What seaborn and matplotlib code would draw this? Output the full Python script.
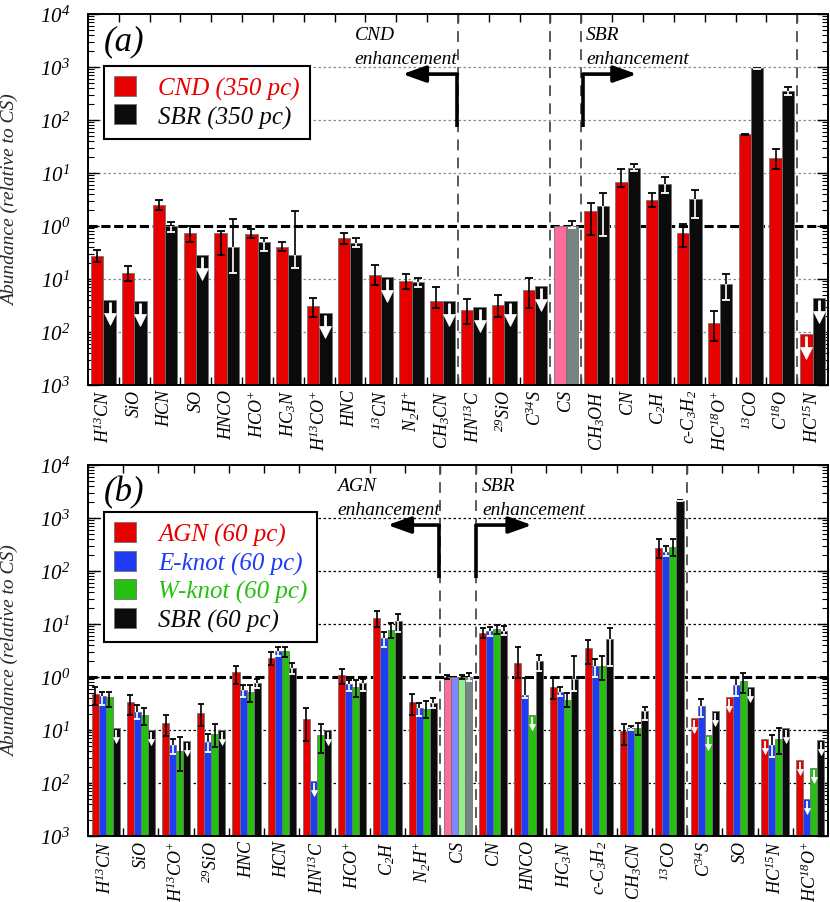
import numpy as np
import pandas as pd
import matplotlib
matplotlib.use("Agg")
import matplotlib.pyplot as plt
import matplotlib.transforms as mtransforms
from matplotlib.patches import Patch
from matplotlib.ticker import LogLocator, NullFormatter
import seaborn as sns

# ---------------- Panel (a) data ----------------
mols_a = ['H$^{13}$CN', 'SiO', 'HCN', 'SO', 'HNCO', 'HCO$^{+}$', 'HC$_{3}$N',
          'H$^{13}$CO$^{+}$', 'HNC', '$^{13}$CN', 'N$_{2}$H$^{+}$', 'CH$_{3}$CN',
          'HN$^{13}$C', '$^{29}$SiO', 'C$^{34}$S', 'CS', 'CH$_{3}$OH', 'CN',
          'C$_{2}$H', 'c-C$_{3}$H$_{2}$', 'HC$^{18}$O$^{+}$', '$^{13}$CO',
          'C$^{18}$O', 'HC$^{15}$N']
cnd_a = [0.27, 0.13, 2.5, 0.73, 0.74, 0.70, 0.41, 0.031, 0.60, 0.12, 0.091, 0.039,
         0.026, 0.032, 0.062, 1.0, 1.9, 6.8, 3.1, 0.73, 0.0145, 54, 19, 0.0092]
cnd_up = [0.11, 0.13, 0.09, 0.13, 0.03, 0.09, 0.09, 0.16, 0.09, 0.19, 0.13, 0.25,
          0.21, 0.19, 0.22, 0, 0.16, 0.25, 0.13, 0.18, 0.23, 0.01, 0.18, 0]
cnd_dn = [0.11, 0.16, 0.10, 0.17, 0.42, 0.08, 0.09, 0.20, 0.11, 0.20, 0.14, 0.14,
          0.27, 0.23, 0.33, 0, 0.45, 0.10, 0.14, 0.26, 0.34, 0.01, 0.20, 0]
cnd_ul = [0] * 23 + [1]
sbr_a = [0.040, 0.039, 1.0, 0.29, 0.41, 0.49, 0.29, 0.023, 0.48, 0.11, 0.087, 0.038,
         0.030, 0.039, 0.075, 1.0, 2.4, 12.4, 6.1, 3.2, 0.081, 955, 355, 0.043]
sbr_up = [0, 0, 0.08, 0, 0.52, 0.09, 0.82, 0, 0.09, 0, 0.08, 0,
          0, 0, 0, 0.09, 0.24, 0.08, 0.13, 0.18, 0.19, 0.01, 0.08, 0]
sbr_dn = [0, 0, 0.11, 0, 0.49, 0.16, 0.25, 0, 0.08, 0, 0.09, 0,
          0, 0, 0, 0.04, 0.57, 0.05, 0.16, 0.35, 0.30, 0.01, 0.08, 0]
sbr_ul = [1, 1, 0, 1, 0, 0, 0, 1, 0, 1, 0, 1, 1, 1, 1, 0, 0, 0, 0, 0, 0, 0, 0, 1]
names_a = ['CND (350 pc)', 'SBR (350 pc)']

# ---------------- Panel (b) data ----------------
mols_b = ['H$^{13}$CN', 'SiO', 'H$^{13}$CO$^{+}$', '$^{29}$SiO', 'HNC', 'HCN',
          'HN$^{13}$C', 'HCO$^{+}$', 'C$_{2}$H', 'N$_{2}$H$^{+}$', 'CS', 'CN', 'HNCO',
          'HC$_{3}$N', 'c-C$_{3}$H$_{2}$', 'CH$_{3}$CN', '$^{13}$CO', 'C$^{34}$S', 'SO',
          'HC$^{15}$N', 'HC$^{18}$O$^{+}$']
agn_b = [0.47, 0.33, 0.134, 0.21, 1.26, 2.3, 0.16, 1.1, 12.8, 0.33, 1.0, 6.9, 1.8,
         0.66, 3.5, 0.096, 270, 0.17, 0.41, 0.069, 0.027]
agn_up = [0.14, 0.14, 0.15, 0.16, 0.11, 0.10, 0.21, 0.11, 0.14, 0.16, 0.04, 0.08, 0.31,
          0.16, 0.16, 0.13, 0.17, 0, 0, 0, 0]
agn_dn = [0.20, 0.23, 0.24, 0.24, 0.23, 0.14, 0.41, 0.17, 0.17, 0.23, 0.04, 0.11, 0.28,
          0.24, 0.30, 0.26, 0.19, 0, 0, 0, 0]
agn_ul = [0] * 17 + [1, 1, 1, 1]
ek_b = [0.43, 0.22, 0.052, 0.059, 0.57, 3.1, 0.011, 0.73, 5.4, 0.26, 1.0, 7.4, 0.46,
        0.53, 1.6, 0.11, 230, 0.28, 0.71, 0.052, 0.005]
ek_up = [0.09, 0.12, 0.11, 0.15, 0.09, 0.08, 0, 0.08, 0.11, 0.10, 0, 0.08, 0.31,
         0.09, 0.14, 0.03, 0.11, 0.14, 0.14, 0.18, 0]
ek_dn = [0.16, 0.13, 0.16, 0.18, 0.13, 0.09, 0, 0.12, 0.16, 0.15, 0, 0.09, 0.06,
         0.08, 0.21, 0.04, 0.08, 0.20, 0.21, 0.23, 0]
ek_ul = [0, 0, 0, 0, 0, 0, 1, 0, 0, 0, 0, 0, 0, 0, 0, 0, 0, 0, 0, 0, 1]
wk_b = [0.41, 0.19, 0.041, 0.084, 0.53, 3.1, 0.079, 0.64, 7.7, 0.25, 1.0, 7.9, 0.19,
        0.37, 1.6, 0.11, 280, 0.079, 0.83, 0.069, 0.019]
wk_up = [0.10, 0.14, 0.25, 0.18, 0.13, 0.08, 0.21, 0.14, 0.13, 0.15, 0.03, 0.09, 0,
         0.13, 0.19, 0.09, 0.15, 0, 0.16, 0.19, 0]
wk_dn = [0.17, 0.19, 0.38, 0.25, 0.19, 0.11, 0.33, 0.18, 0.16, 0.18, 0.03, 0.09, 0,
         0.13, 0.27, 0.13, 0.16, 0, 0.23, 0.30, 0]
wk_ul = [0, 0, 0, 0, 0, 0, 0, 0, 0, 0, 0, 0, 1, 0, 0, 0, 0, 1, 0, 0, 1]
sb_b = [0.107, 0.10, 0.062, 0.10, 0.76, 1.46, 0.10, 0.76, 11.4, 0.32, 1.0, 7.5, 2.0,
        0.9, 5.1, 0.23, 2100, 0.23, 0.64, 0.11, 0.065]
sb_up = [0, 0, 0, 0, 0.08, 0.09, 0, 0.09, 0.14, 0.09, 0.07, 0.08, 0.11,
         0.45, 0.21, 0.08, 0.01, 0, 0, 0, 0]
sb_dn = [0, 0, 0, 0, 0.09, 0.11, 0, 0.14, 0.20, 0.09, 0.07, 0.08, 0.19,
         0.21, 0.50, 0.17, 0.01, 0, 0, 0, 0]
sb_ul = [1, 1, 1, 1, 0, 0, 1, 0, 0, 0, 0, 0, 0, 0, 0, 0, 0, 1, 1, 1, 1]
names_b = ['AGN (60 pc)', 'E-knot (60 pc)', 'W-knot (60 pc)', 'SBR (60 pc)']

ytick_vals = [1e-3, 1e-2, 1e-1, 1e0, 1e1, 1e2, 1e3, 1e4]
ytick_labels = ['$10^{3}$', '$10^{2}$', '$10^{1}$', '$10^{0}$',
                '$10^{1}$', '$10^{2}$', '$10^{3}$', '$10^{4}$']

# ---------------- style ----------------
sns.set_theme(style="white")
plt.rcParams.update({
    'font.family': ['Liberation Serif', 'DejaVu Serif'],
    'font.style': 'italic',
    'mathtext.fontset': 'custom',
    'mathtext.rm': 'Liberation Serif:italic',
    'mathtext.it': 'Liberation Serif:italic',
    'mathtext.bf': 'Liberation Serif:italic:bold',
    'axes.edgecolor': 'black',
    'axes.linewidth': 1.4,
    'text.color': 'black',
    'xtick.color': 'black',
    'ytick.color': 'black',
})

RED = '#e60000'
BLK = '#0b0b0b'
BLU = '#1f3cf5'
GRN = '#26c010'

FIG_H_PX = 903


def draw_panel(ax, mols, names, series, colors, cs_colors, low_cols, grid_col,
               leg_anchor, label, arrows, seps, alen, ahead, ams, alw, capms):
    rows = []
    for name, s in zip(names, series):
        for m, v in zip(mols, s[0]):
            rows.append({'mol': m, 'region': name, 'value': v})
    df = pd.DataFrame(rows)
    sns.barplot(data=df, x='mol', y='value', hue='region', order=mols,
                hue_order=names, palette=dict(zip(names, colors)), saturation=1,
                width=0.8, edgecolor='0.45', linewidth=0.6, errorbar=None,
                legend=False, ax=ax)
    ax.set_yscale('log')
    n = len(mols)
    ax.set_xlim(-0.5, n - 0.5)
    ax.set_ylim(1e-3, 1e4)
    # pixels per decade, from the axes geometry
    ppd = ax.get_position().height * FIG_H_PX / 7.0

    for yv in ytick_vals[1:-1]:
        if yv == 1.0:
            continue
        ax.axhline(yv, color=grid_col, ls=(0, (2, 2)), lw=0.9, zorder=0.5)
    ax.axhline(1.0, color='black', ls=(0, (3, 1.2)), lw=2.2, zorder=0.6)
    for b in seps:
        ax.axvline(b, color='0.3', ls=(0, (6, 4)), lw=1.3, zorder=0.6)

    cs_idx = mols.index('CS')
    for k, cont in enumerate(ax.containers):
        ups, dns, uls = series[k][1], series[k][2], series[k][3]
        for p in cont:
            xc = p.get_x() + p.get_width() / 2
            j = int(round(xc))
            v = p.get_height()
            if j == cs_idx:
                p.set_facecolor(cs_colors[k])
            if uls[j]:
                ytop = v * 10 ** (-2.0 / ppd)
                yshaft = v * 10 ** (-(alen - ahead * 0.6) / ppd)
                ytri = v * 10 ** (-(alen - ahead * 0.5) / ppd)
                ax.plot([xc, xc], [ytop, yshaft], color='white', lw=alw, zorder=4,
                        solid_capstyle='butt')
                ax.plot([xc], [ytri], marker='v', ms=ams, color='white',
                        mec='white', mew=0.5, zorder=4)
                continue
            if ups[j] > 0:
                hi = v * 10 ** ups[j]
                ax.plot([xc, xc], [v, hi], color='black', lw=1.2, zorder=3,
                        solid_capstyle='butt')
                ax.plot([xc], [hi], marker='_', ms=capms, mew=1.3, color='black', zorder=3)
            if dns[j] > 0:
                lo = v * 10 ** (-dns[j])
                ax.plot([xc, xc], [lo, v], color=low_cols[k], lw=1.2, zorder=3,
                        solid_capstyle='butt')
                ax.plot([xc], [lo], marker='_', ms=capms, mew=1.3, color=low_cols[k],
                        zorder=3)

    ax.set_yticks(ytick_vals)
    ax.set_yticklabels(ytick_labels, fontsize=15)
    ax.yaxis.set_minor_locator(LogLocator(base=10, subs=np.arange(2, 10), numticks=100))
    ax.yaxis.set_minor_formatter(NullFormatter())
    ax.tick_params(axis='y', which='major', direction='in', left=True, right=True,
                   length=8, width=1.0, pad=13)
    ax.tick_params(axis='y', which='minor', direction='in', left=True, right=True,
                   length=4, width=0.8)
    ax.set_xticks(range(n))
    ax.set_xticklabels(mols, rotation=90, fontsize=13)
    ax.tick_params(axis='x', which='major', length=0, pad=3)
    ax.set_xticks(np.arange(0.5, n - 1, 1), minor=True)
    ax.tick_params(axis='x', which='minor', direction='in', top=True, bottom=True,
                   length=6, width=1.0)
    ax.set_xlabel('')
    ax.set_ylabel('Abundance (relative to CS)', fontsize=14)
    ax.yaxis.set_label_coords(-0.093, 0.5)
    for sp in ax.spines.values():
        sp.set_linewidth(1.4)
        sp.set_color('black')

    handles = [Patch(facecolor=c, edgecolor='0.45', linewidth=0.6) for c in colors]
    leg = ax.legend(handles, names, loc='upper left', bbox_to_anchor=leg_anchor,
                    frameon=True, fancybox=False, edgecolor='black', fontsize=18,
                    handlelength=0.85, handleheight=0.85, handletextpad=0.9,
                    borderpad=0.4, labelspacing=0.18, borderaxespad=0,
                    framealpha=1)
    leg.get_frame().set_linewidth(1.5)
    for t, c in zip(leg.get_texts(), colors):
        t.set_color(c)
    leg.set_zorder(10)

    ax.text(0.022, 0.927, label, transform=ax.transAxes, fontsize=25,
            va='center', ha='left')

    trans = mtransforms.blended_transform_factory(ax.transData, ax.transAxes)
    for (title, xt, xv, xe) in arrows:
        ax.text(xt, 0.944, title, transform=trans, fontsize=14, ha='left', va='center')
        ax.text(xt, 0.879, 'enhancement', transform=trans, fontsize=14, ha='left',
                va='center')
        ax.plot([xv, xv], [0.695, 0.842], transform=trans, color='black', lw=2.6,
                solid_capstyle='butt', zorder=5)
        ax.annotate('', xy=(xe, 0.838), xytext=(xv, 0.838), xycoords=trans,
                    textcoords=trans,
                    arrowprops=dict(arrowstyle='-|>,head_width=0.25,head_length=0.7',
                                    color='black', lw=2.6, shrinkA=0, shrinkB=0,
                                    mutation_scale=20), zorder=5)


fig = plt.figure(figsize=(8.3, 9.03), dpi=100)
fig.patch.set_facecolor('white')
ax_a = fig.add_axes([0.106, 0.5725, 0.8916, 0.4109])
ax_b = fig.add_axes([0.106, 0.0731, 0.8916, 0.4109])

draw_panel(ax_a, mols_a, names_a,
           [(cnd_a, cnd_up, cnd_dn, cnd_ul), (sbr_a, sbr_up, sbr_dn, sbr_ul)],
           [RED, BLK], ['#ff6b9b', '#788484'], ['black', 'white'], '0.55',
           (0.022, 0.86), '(a)',
           [('CND', 8.15, 11.48, 9.7), ('SBR', 15.65, 15.55, 17.3)],
           [11.5, 14.5, 15.5, 22.5], 24, 10, 8, 2.0, 6)

draw_panel(ax_b, mols_b, names_b,
           [(agn_b, agn_up, agn_dn, agn_ul), (ek_b, ek_up, ek_dn, ek_ul),
            (wk_b, wk_up, wk_dn, wk_ul), (sb_b, sb_up, sb_dn, sb_ul)],
           [RED, BLU, GRN, BLK], ['#ff6b9b', '#8088ff', '#90ee88', '#788484'],
           ['black', 'white', 'black', 'white'], 'black',
           (0.022, 0.873), '(b)',
           [('AGN', 6.58, 9.45, 8.0), ('SBR', 10.68, 10.52, 12.1)],
           [9.5, 10.5, 16.5], 15, 6, 5, 1.3, 4.5)

fig.savefig('out.png', dpi=100, facecolor='white')
